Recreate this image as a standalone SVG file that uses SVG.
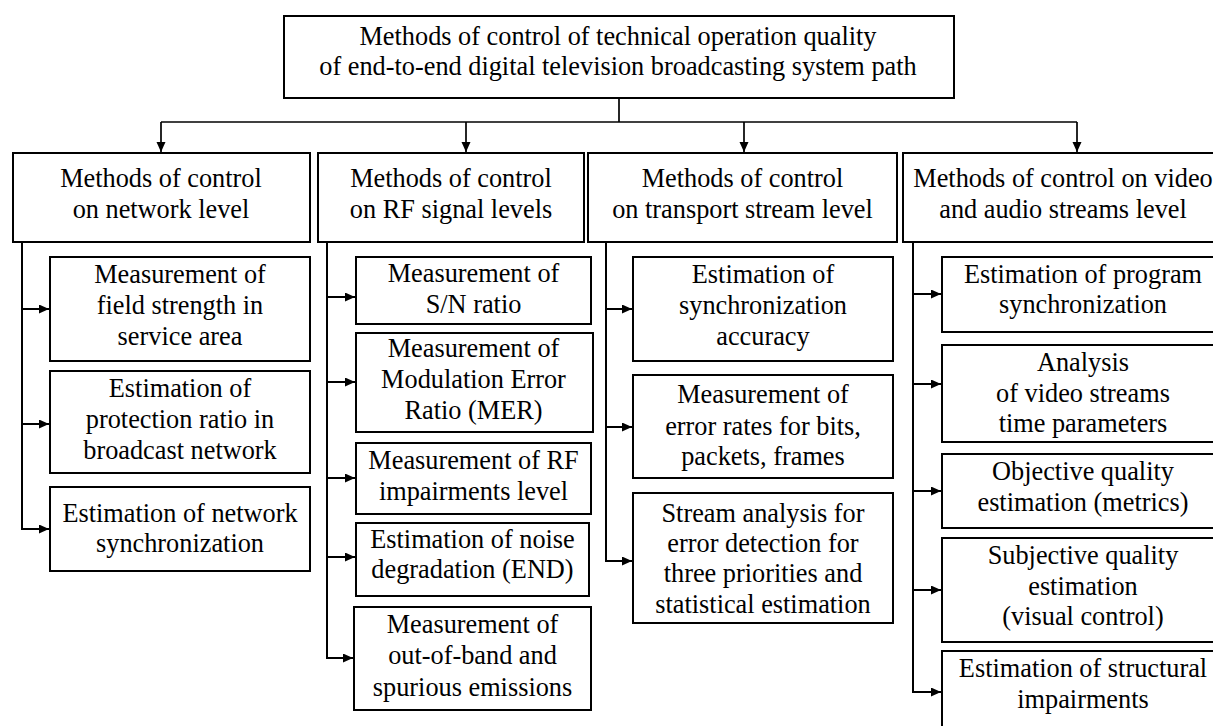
<svg xmlns="http://www.w3.org/2000/svg" width="1213" height="726" viewBox="0 0 1213 726" font-family="'Liberation Serif', 'Times New Roman', Times, serif">
<defs>
<style>
.box{fill:#fff;stroke:#000;stroke-width:2}
.t{font-family:'Liberation Serif','Times New Roman',Times,serif;font-size:26.3px;fill:#000;text-anchor:middle}
.c{fill:none;stroke:#000;stroke-width:2}
.b{fill:none;stroke:#000;stroke-width:1.7}
</style>
<marker id="ah" markerUnits="userSpaceOnUse" markerWidth="11" markerHeight="10" refX="10" refY="4.5" orient="auto">
<path d="M0,0 L10,4.5 L0,9 z" fill="#000"/>
</marker>
</defs>
<rect width="1213" height="726" fill="#fff"/>

<g id="connectors">
<path class="b" d="M619,98 V122"/>
<path class="b" d="M161,122 H1077"/>
<path class="b" d="M161,122 V152" marker-end="url(#ah)"/>
<path class="b" d="M466,122 V152" marker-end="url(#ah)"/>
<path class="b" d="M744,122 V152" marker-end="url(#ah)"/>
<path class="b" d="M1077,122 V152" marker-end="url(#ah)"/>

<path class="c" d="M22,242 V529"/>
<path class="c" d="M22,309 H49" marker-end="url(#ah)"/>
<path class="c" d="M22,424 H49" marker-end="url(#ah)"/>
<path class="c" d="M21,529 H49" marker-end="url(#ah)"/>

<path class="c" d="M327,242 V658"/>
<path class="c" d="M327,297 H355" marker-end="url(#ah)"/>
<path class="c" d="M327,382 H355" marker-end="url(#ah)"/>
<path class="c" d="M327,478 H355" marker-end="url(#ah)"/>
<path class="c" d="M327,557 H355" marker-end="url(#ah)"/>
<path class="c" d="M326,658 H353" marker-end="url(#ah)"/>

<path class="c" d="M606,242 V561"/>
<path class="c" d="M606,309 H632" marker-end="url(#ah)"/>
<path class="c" d="M606,427 H632" marker-end="url(#ah)"/>
<path class="c" d="M605,561 H632" marker-end="url(#ah)"/>

<path class="c" d="M913,242 V692"/>
<path class="c" d="M913,294 H941" marker-end="url(#ah)"/>
<path class="c" d="M913,384 H941" marker-end="url(#ah)"/>
<path class="c" d="M913,491 H941" marker-end="url(#ah)"/>
<path class="c" d="M913,590 H941" marker-end="url(#ah)"/>
<path class="c" d="M912,692 H941" marker-end="url(#ah)"/>
</g>

<g id="root">
<rect class="box" x="284" y="16" width="670" height="82"/>
<text class="t" x="618" y="45">Methods of control of technical operation quality</text>
<text class="t" x="618" y="75">of end-to-end digital television broadcasting system path</text>
</g>

<g id="h1">
<rect class="box" x="13" y="153" width="297" height="89"/>
<text class="t" x="161" y="187">Methods of control</text>
<text class="t" x="161" y="218">on network level</text>
</g>
<g id="h2">
<rect class="box" x="318" y="153" width="266" height="89"/>
<text class="t" x="451" y="187">Methods of control</text>
<text class="t" x="451" y="218">on RF signal levels</text>
</g>
<g id="h3">
<rect class="box" x="588" y="153" width="309" height="89"/>
<text class="t" x="742.5" y="187">Methods of control</text>
<text class="t" x="742.5" y="218">on transport stream level</text>
</g>
<g id="h4">
<rect class="box" x="903" y="153" width="320" height="89"/>
<text class="t" x="1063" y="187">Methods of control on video</text>
<text class="t" x="1063" y="218">and audio streams level</text>
</g>

<g id="n1a">
<rect class="box" x="50" y="257" width="260" height="104"/>
<text class="t" x="180" y="283">Measurement of</text>
<text class="t" x="180" y="314">field strength in</text>
<text class="t" x="180" y="345">service area</text>
</g>
<g id="n1b">
<rect class="box" x="50" y="371" width="260" height="102"/>
<text class="t" x="180" y="397">Estimation of</text>
<text class="t" x="180" y="428">protection ratio in</text>
<text class="t" x="180" y="459">broadcast network</text>
</g>
<g id="n1c">
<rect class="box" x="50" y="487" width="260" height="84"/>
<text class="t" x="180" y="522">Estimation of network</text>
<text class="t" x="180" y="552">synchronization</text>
</g>

<g id="n2a">
<rect class="box" x="356" y="257" width="235" height="67"/>
<text class="t" x="473.5" y="282">Measurement of</text>
<text class="t" x="473.5" y="313">S/N ratio</text>
</g>
<g id="n2b">
<rect class="box" x="356" y="333" width="237" height="99"/>
<text class="t" x="473.5" y="357">Measurement of</text>
<text class="t" x="473.5" y="388">Modulation Error</text>
<text class="t" x="473.5" y="419">Ratio (MER)</text>
</g>
<g id="n2c">
<rect class="box" x="356" y="443" width="235" height="71"/>
<text class="t" x="473.5" y="469">Measurement of RF</text>
<text class="t" x="473.5" y="500">impairments level</text>
</g>
<g id="n2d">
<rect class="box" x="356" y="523" width="233" height="73"/>
<text class="t" x="472.5" y="548">Estimation of noise</text>
<text class="t" x="472.5" y="578">degradation (END)</text>
</g>
<g id="n2e">
<rect class="box" x="354" y="607" width="237" height="103"/>
<text class="t" x="472.5" y="633">Measurement of</text>
<text class="t" x="472.5" y="664">out-of-band and</text>
<text class="t" x="472.5" y="696">spurious emissions</text>
</g>

<g id="n3a">
<rect class="box" x="633" y="257" width="260" height="104"/>
<text class="t" x="763" y="283">Estimation of</text>
<text class="t" x="763" y="314">synchronization</text>
<text class="t" x="763" y="345">accuracy</text>
</g>
<g id="n3b">
<rect class="box" x="633" y="375" width="260" height="103"/>
<text class="t" x="763" y="403">Measurement of</text>
<text class="t" x="763" y="435">error rates for bits,</text>
<text class="t" x="763" y="465">packets, frames</text>
</g>
<g id="n3c">
<rect class="box" x="633" y="493" width="260" height="130"/>
<text class="t" x="763" y="522">Stream analysis for</text>
<text class="t" x="763" y="552">error detection for</text>
<text class="t" x="763" y="582">three priorities and</text>
<text class="t" x="763" y="613">statistical estimation</text>
</g>

<g id="n4a">
<rect class="box" x="942" y="257" width="282" height="75"/>
<text class="t" x="1083" y="283">Estimation of program</text>
<text class="t" x="1083" y="313">synchronization</text>
</g>
<g id="n4b">
<rect class="box" x="942" y="345" width="282" height="97"/>
<text class="t" x="1083" y="371">Analysis</text>
<text class="t" x="1083" y="402">of video streams</text>
<text class="t" x="1083" y="432">time parameters</text>
</g>
<g id="n4c">
<rect class="box" x="942" y="454" width="282" height="74"/>
<text class="t" x="1083" y="480">Objective quality</text>
<text class="t" x="1083" y="511">estimation (metrics)</text>
</g>
<g id="n4d">
<rect class="box" x="942" y="538" width="282" height="104"/>
<text class="t" x="1083" y="564">Subjective quality</text>
<text class="t" x="1083" y="595">estimation</text>
<text class="t" x="1083" y="625">(visual control)</text>
</g>
<g id="n4e">
<rect class="box" x="942" y="651" width="282" height="90"/>
<text class="t" x="1083" y="677">Estimation of structural</text>
<text class="t" x="1083" y="708">impairments</text>
</g>
</svg>
